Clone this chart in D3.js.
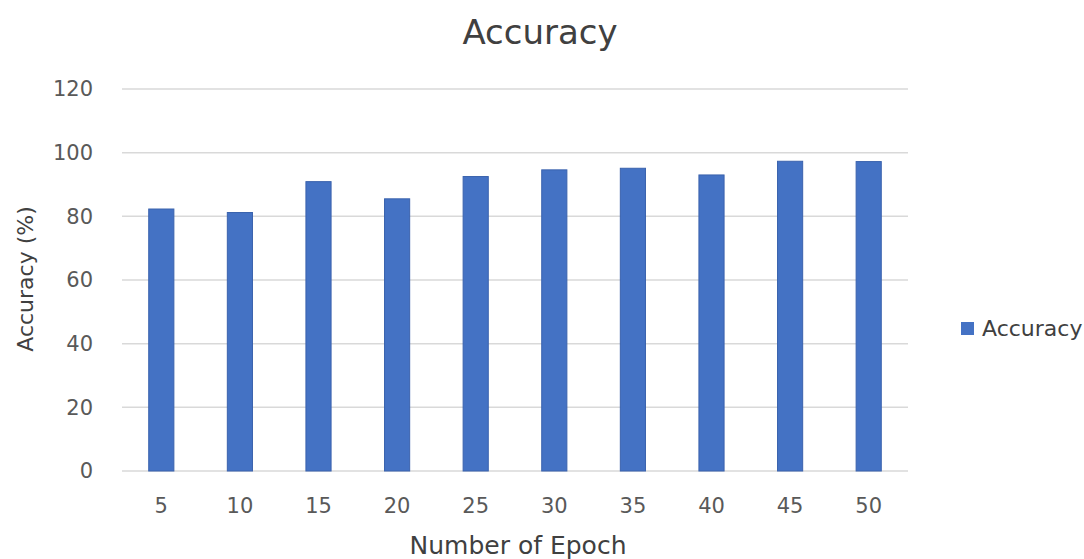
<!DOCTYPE html>
<html><head><meta charset="utf-8">
<script src="https://cdn.jsdelivr.net/npm/d3@7"></script>
<style>body{margin:0;background:#fff;} text{font-family:"DejaVu Sans",sans-serif;}</style>
</head><body>
<svg id="c" width="1084" height="559"></svg>
<script>
const categories = ["5","10","15","20","25","30","35","40","45","50"];
const accuracy = [82.3, 81.2, 90.9, 85.5, 92.5, 94.6, 95.1, 93.0, 97.3, 97.2];
const yTicks = [0,20,40,60,80,100,120];
const seriesName = "Accuracy";

const svg = d3.select("#c");
const m = {l:122, r:908, t:89, b:471};
const x = d3.scaleBand().domain(categories).range([m.l, m.r]).paddingInner(0.68).paddingOuter(0.34);
const y = d3.scaleLinear().domain([0,120]).range([m.b, m.t]);
const FONT = "DejaVu Sans";

svg.append("g").selectAll("line").data(yTicks).join("line")
  .attr("x1", m.l).attr("x2", m.r).attr("y1", d=>y(d)).attr("y2", d=>y(d))
  .attr("stroke", "#d9d9d9").attr("stroke-width", 1.5);

const yAxis = d3.axisLeft(y).tickValues(yTicks).tickSize(0).tickPadding(0);
const ga = svg.append("g").attr("transform", `translate(93,0)`).call(yAxis);
ga.select(".domain").remove();
ga.selectAll("text").attr("font-size", 21).attr("fill", "#595959").attr("font-family", FONT);

const xAxis = d3.axisBottom(x).tickSize(0).tickPadding(0);
const gx = svg.append("g").attr("transform", `translate(0,${m.b+27})`).call(xAxis);
gx.select(".domain").remove();
gx.selectAll("text").attr("font-size", 21).attr("fill", "#595959").attr("font-family", FONT);

svg.append("g").selectAll("rect").data(accuracy).join("rect")
  .attr("x", (d,i)=>x(categories[i])).attr("width", x.bandwidth())
  .attr("y", d=>y(d)).attr("height", d=>y(0)-y(d))
  .attr("fill", "#4472c4").attr("stroke", "#3a62ad").attr("stroke-width", 1);

svg.append("text").attr("x", 540).attr("y", 44).attr("text-anchor","middle")
  .attr("font-size", 34).attr("fill", "#404040").text("Accuracy");
svg.append("text").attr("x", 518).attr("y", 554).attr("text-anchor","middle")
  .attr("font-size", 25).attr("fill", "#404040").text("Number of Epoch");
svg.append("text").attr("transform", "translate(33,279) rotate(-90)").attr("text-anchor","middle")
  .attr("font-size", 22).attr("fill", "#404040").text("Accuracy (%)");

svg.append("rect").attr("x", 961).attr("y", 322).attr("width", 13).attr("height", 13).attr("fill", "#4472c4");
svg.append("text").attr("x", 982).attr("y", 336).attr("font-size", 22).attr("fill", "#404040").text(seriesName);
</script>
</body></html>
